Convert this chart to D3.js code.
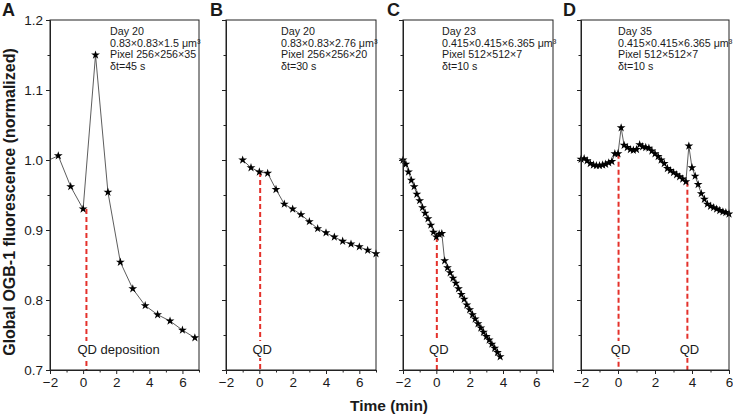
<!DOCTYPE html>
<html><head><meta charset="utf-8">
<script src="https://cdn.jsdelivr.net/npm/d3@7"></script>
<style>
body{margin:0;background:#fff}
svg{display:block}
text{font-family:"Liberation Sans",Arial,Helvetica,sans-serif;fill:#1a1a1a}
</style></head>
<body><svg id="chart" width="733" height="415"></svg>
<script>
// ---------------- DATA ----------------
const panelIds = ["A", "B", "C", "D"];
const xTickLabels = [-2, 0, 2, 4, 6];
const yTickLabels = [0.7, 0.8, 0.9, 1.0, 1.1, 1.2];

const timesA  = [-2.25, -1.5, -0.75, 0, 0.75, 1.5, 2.25, 3.0, 3.75, 4.5, 5.25, 6.0, 6.75];
const valuesA = [0.998, 1.006, 0.962, 0.930, 1.150, 0.954, 0.854, 0.816, 0.792, 0.779, 0.770, 0.757, 0.746];

const timesB  = [-1.0, -0.5, 0, 0.5, 1.0, 1.5, 2.0, 2.5, 3.0, 3.5, 4.0, 4.5, 5.0, 5.5, 6.0, 6.5, 7.0];
const valuesB = [1.000, 0.989, 0.983, 0.981, 0.958, 0.937, 0.930, 0.922, 0.912, 0.902, 0.896, 0.890, 0.884, 0.880, 0.876, 0.871, 0.866];

const timesC  = [-2, -1.83, -1.67, -1.5, -1.33, -1.17, -1, -0.83, -0.67, -0.5, -0.33, -0.17, 0,
                 0.17, 0.33, 0.5, 0.67, 0.83, 1, 1.17, 1.33, 1.5, 1.67, 1.83, 2, 2.17, 2.33, 2.5,
                 2.67, 2.83, 3, 3.17, 3.33, 3.5, 3.67, 3.83];
const valuesC = [1.000, 0.994, 0.983, 0.971, 0.962, 0.951, 0.942, 0.932, 0.924, 0.916, 0.907, 0.897, 0.890,
                 0.894, 0.895, 0.856, 0.846, 0.839, 0.831, 0.824, 0.816, 0.808, 0.801, 0.793, 0.786, 0.779, 0.773, 0.766,
                 0.760, 0.754, 0.748, 0.743, 0.737, 0.731, 0.725, 0.719];

const timesD  = [-2, -1.83, -1.67, -1.5, -1.33, -1.17, -1, -0.83, -0.67, -0.5, -0.33, -0.17, 0,
                 0.17, 0.33, 0.5, 0.67, 0.83, 1, 1.17, 1.33, 1.5, 1.67, 1.83, 2, 2.17, 2.33, 2.5,
                 2.67, 2.83, 3, 3.17, 3.33, 3.5, 3.67, 3.83, 4, 4.17, 4.33, 4.5, 4.67, 4.83, 5,
                 5.17, 5.33, 5.5, 5.67, 5.83, 6];
const valuesD = [1.001, 1.002, 0.999, 0.995, 0.993, 0.992, 0.992, 0.993, 0.994, 0.996, 0.998, 1.009, 1.009,
                 1.046, 1.021, 1.018, 1.015, 1.014, 1.015, 1.022, 1.019, 1.018, 1.017, 1.013, 1.009, 1.005, 1.000, 0.995,
                 0.988, 0.985, 0.982, 0.979, 0.976, 0.973, 0.969, 1.020, 0.989, 0.977, 0.965, 0.952, 0.944, 0.937, 0.934,
                 0.932, 0.930, 0.928, 0.926, 0.925, 0.923];

const qdTimesA = [0.2];
const qdTimesB = [0.05];
const qdTimesC = [0.03];
const qdTimesD = [0.03, 3.75];

const qdLabelA = "QD deposition";
const qdLabelOther = "QD";

const annoA = ["Day 20", "0.83×0.83×1.5 μm³", "Pixel 256×256×35", "δt=45 s"];
const annoB = ["Day 20", "0.83×0.83×2.76 μm³", "Pixel 256×256×20", "δt=30 s"];
const annoC = ["Day 23", "0.415×0.415×6.365 μm³", "Pixel 512×512×7", "δt=10 s"];
const annoD = ["Day 35", "0.415×0.415×6.365 μm³", "Pixel 512×512×7", "δt=10 s"];

const xMaxA = 7, xMaxB = 7, xMaxC = 7, xMaxD = 6;
const yTitle = "Global OGB-1 fluorescence (normalized)";
const xTitle = "Time (min)";

// ---------------- LAYOUT ----------------
const layout = [
  {left: 50,  right: 199, annoDx: 60, letterDx: -48},
  {left: 226, right: 376, annoDx: 55, letterDx: -16},
  {left: 403, right: 553, annoDx: 39, letterDx: -16},
  {left: 581, right: 729, annoDx: 37, letterDx: -18}
];
const plotTop = 20, plotBottom = 370;

const panels = [
  {id: panelIds[0], times: timesA, values: valuesA, qd: qdTimesA, qdLabel: qdLabelA, anno: annoA, xMax: xMaxA},
  {id: panelIds[1], times: timesB, values: valuesB, qd: qdTimesB, qdLabel: qdLabelOther, anno: annoB, xMax: xMaxB},
  {id: panelIds[2], times: timesC, values: valuesC, qd: qdTimesC, qdLabel: qdLabelOther, anno: annoC, xMax: xMaxC},
  {id: panelIds[3], times: timesD, values: valuesD, qd: qdTimesD, qdLabel: qdLabelOther, anno: annoD, xMax: xMaxD}
];

const svg = d3.select("#chart");
const y = d3.scaleLinear().domain([0.7, 1.2]).range([plotBottom, plotTop]);
const defs = svg.append("defs");
const star = d3.symbol().type(d3.symbolStar).size(24);
const axisColor = "#222";

panels.forEach((p, pi) => {
  const L = layout[pi];
  const x = d3.scaleLinear().domain([-2, p.xMax]).range([L.left, L.right]);
  const g = svg.append("g");
  const pts = p.times.map((t, i) => ({t, v: p.values[i]}));

  defs.append("clipPath").attr("id", "clip" + pi)
    .append("rect").attr("x", L.left).attr("y", plotTop)
    .attr("width", L.right - L.left).attr("height", plotBottom - plotTop);

  // QD dashed lines + labels
  p.qd.forEach(q => {
    const idx = d3.bisector(d => d.t).right(pts, q) - 1;
    const vTop = pts[Math.max(0, idx)].v;
    g.append("line")
      .attr("x1", x(q)).attr("x2", x(q))
      .attr("y1", y(vTop)).attr("y2", plotBottom)
      .attr("stroke", "#e4312b").attr("stroke-width", 2)
      .attr("stroke-dasharray", "5,3");
    const isLong = p.qdLabel.length > 2;
    const lbl = g.append("text")
      .attr("x", isLong ? x(q) - 9 : x(q) + 2)
      .attr("y", 354)
      .attr("text-anchor", isLong ? "start" : "middle")
      .attr("font-size", 13)
      .text(p.qdLabel);
    const bb = lbl.node().getBBox();
    g.insert("rect", () => lbl.node())
      .attr("x", bb.x - 1).attr("y", bb.y - 1)
      .attr("width", bb.width + 2).attr("height", bb.height + 2)
      .attr("fill", "#fff");
  });

  // data line
  const line = d3.line().x(d => x(d.t)).y(d => y(d.v));
  g.append("path").datum(pts)
    .attr("clip-path", `url(#clip${pi})`)
    .attr("d", line)
    .attr("fill", "none").attr("stroke", "#333").attr("stroke-width", 0.8);

  // star markers
  g.selectAll(".pt").data(pts.filter(d => d.t >= -2 && d.t <= p.xMax))
    .join("path")
    .attr("transform", d => `translate(${x(d.t)},${y(d.v)})`)
    .attr("d", star).attr("fill", "#000");

  // frame
  g.append("rect")
    .attr("x", L.left).attr("y", plotTop)
    .attr("width", L.right - L.left).attr("height", plotBottom - plotTop)
    .attr("fill", "none").attr("stroke", axisColor).attr("stroke-width", 1);

  // x axis major + minor
  const xMinor = d3.range(-1, p.xMax + 0.5, 2);
  g.append("g").attr("transform", `translate(0,${plotBottom})`)
    .call(d3.axisBottom(x).tickValues(xTickLabels).tickSize(4).tickSizeOuter(0).tickPadding(3));
  g.append("g").attr("transform", `translate(0,${plotBottom})`)
    .call(d3.axisBottom(x).tickValues(xMinor).tickSize(2.5).tickSizeOuter(0).tickFormat(""));
  // y axis major + minor
  g.append("g").attr("transform", `translate(${L.left},0)`)
    .call(d3.axisLeft(y).tickValues(yTickLabels).tickSize(4).tickSizeOuter(0).tickPadding(3)
      .tickFormat(pi === 0 ? d3.format(".1f") : ""));
  g.append("g").attr("transform", `translate(${L.left},0)`)
    .call(d3.axisLeft(y).tickValues([0.75, 0.85, 0.95, 1.05, 1.15]).tickSize(2.5).tickSizeOuter(0).tickFormat(""));

  g.selectAll(".domain").attr("stroke", axisColor);
  g.selectAll(".tick line").attr("stroke", axisColor);
  g.selectAll(".tick text").attr("font-size", 13.5)
    .attr("font-family", '"Liberation Sans",Arial,sans-serif').attr("fill", "#1a1a1a");

  // annotation
  const at = g.append("text").attr("font-size", 10.7);
  p.anno.forEach((s, i) => {
    at.append("tspan").attr("x", L.left + L.annoDx).attr("y", 35 + i * 11.6).text(s);
  });

  // panel letter
  g.append("text").attr("x", L.left + L.letterDx).attr("y", 16)
    .attr("font-size", 18).attr("font-weight", "bold").text(p.id);
});

// axis titles
svg.append("text")
  .attr("transform", `translate(15,202) rotate(-90)`)
  .attr("text-anchor", "middle").attr("font-size", 16).attr("font-weight", "bold")
  .text(yTitle);
svg.append("text")
  .attr("x", 389).attr("y", 411)
  .attr("text-anchor", "middle").attr("font-size", 15.5).attr("font-weight", "bold")
  .text(xTitle);
</script></body></html>
